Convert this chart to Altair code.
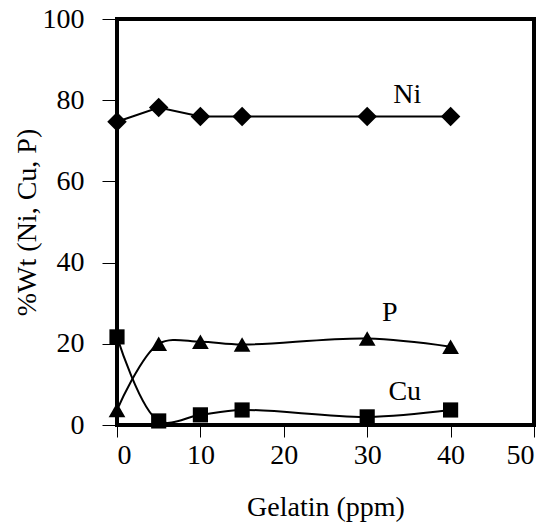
import altair as alt
import pandas as pd

gelatin = [0, 5, 10, 15, 30, 40]
ni = [74.7, 78.2, 76.0, 76.0, 76.0, 76.0]
p = [3.7, 20.0, 20.5, 19.8, 21.3, 19.3]
cu = [21.7, 1.0, 2.5, 3.7, 2.0, 3.7]

label_names = ["Ni", "P", "Cu"]
label_x = [34.8, 32.7, 34.5]
label_y = [81.3, 27.6, 8.1]

FONT = "Liberation Serif"
FS = 28

x_enc = alt.X("g:Q", scale=alt.Scale(domain=[0, 50]),
              axis=alt.Axis(values=[0, 10, 20, 30, 40, 50], title="Gelatin (ppm)",
                            tickSize=12, labelPadding=4, titlePadding=24,
                            labelFont=FONT, labelFontSize=FS, titleFont=FONT, titleFontSize=FS,
                            labelColor="black", titleColor="black", titleFontWeight="normal",
                            grid=False, domain=False, tickColor="black", tickWidth=1))
y_enc = alt.Y("v:Q", scale=alt.Scale(domain=[0, 100]),
              axis=alt.Axis(values=[0, 20, 40, 60, 80, 100], title="%Wt (Ni, Cu, P)",
                            tickSize=15, labelPadding=18, titlePadding=1,
                            labelFont=FONT, labelFontSize=FS, titleFont=FONT, titleFontSize=FS,
                            labelColor="black", titleColor="black", titleFontWeight="normal",
                            grid=False, domain=False, tickColor="black", tickWidth=1))

layers = []
for vals, name, shape, size, interp in [
    (ni, "Ni", "diamond", 380, "linear"),
    (p, "P", "triangle-up", 280, "catmull-rom"),
    (cu, "Cu", "square", 230, "catmull-rom"),
]:
    df = pd.DataFrame({"g": gelatin, "v": vals, "s": name})
    base = alt.Chart(df).encode(x=x_enc, y=y_enc)
    layers.append(base.mark_line(color="black", strokeWidth=2, interpolate=interp))
    layers.append(base.mark_point(shape=shape, filled=True, color="black", opacity=1, size=size))

labels = pd.DataFrame({"name": label_names, "g": label_x, "v": label_y})
layers.append(alt.Chart(labels).mark_text(font=FONT, fontSize=FS, color="black").encode(
    x=alt.X("g:Q"), y=alt.Y("v:Q"), text="name:N"))

chart = alt.layer(*layers).properties(
    width=417, height=406,
    autosize=alt.AutoSizeParams(type="none"),
    padding={"left": 117, "top": 19, "right": 14, "bottom": 101},
).configure_view(stroke="black", strokeWidth=4)

chart.save("out.html", embed_options={"renderer": "svg", "actions": False})
